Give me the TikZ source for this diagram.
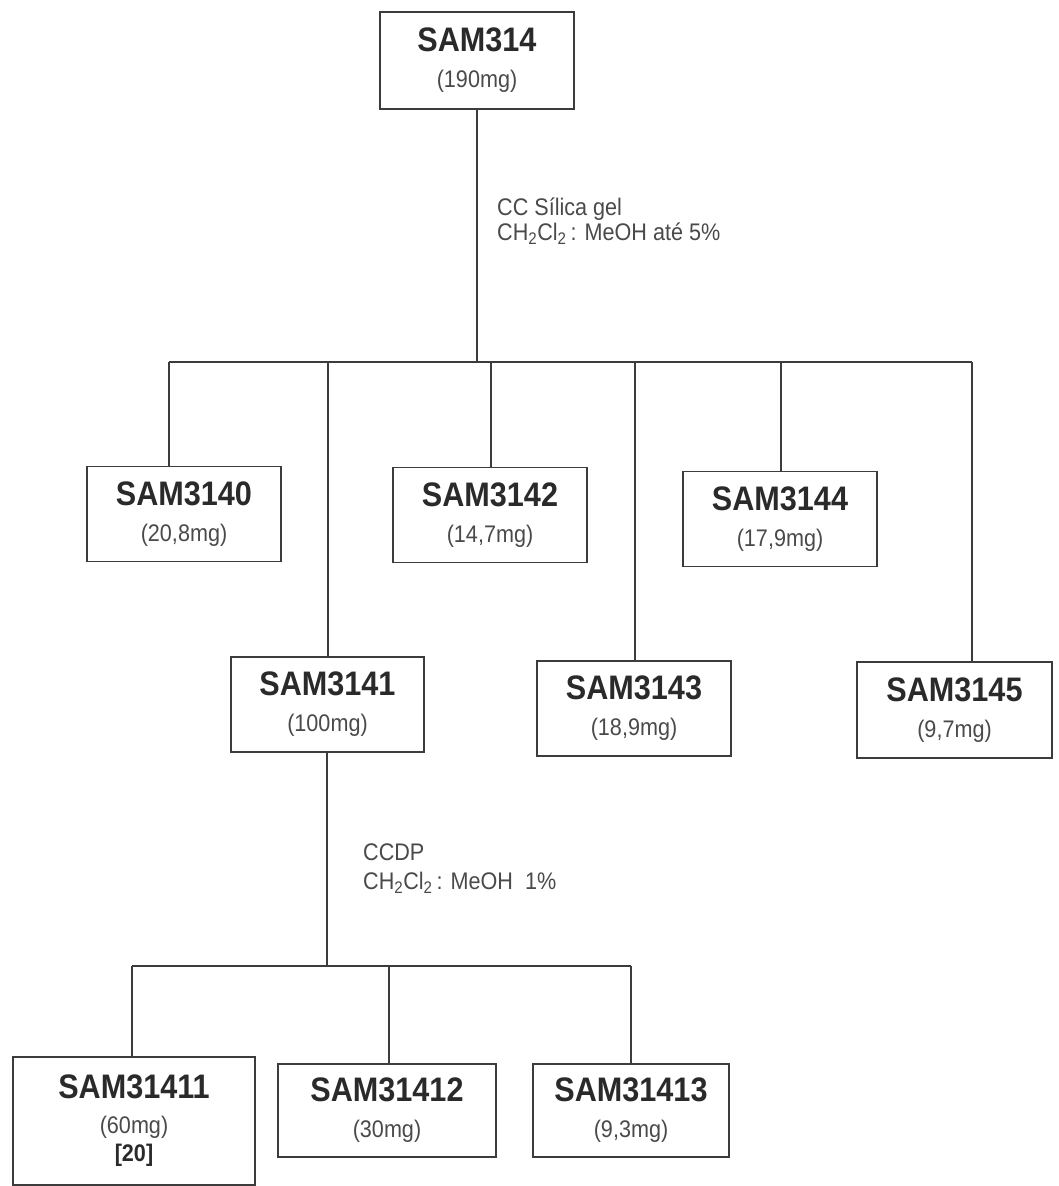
\documentclass[tikz,border=0pt]{standalone}
\usepackage{fontspec}
\setmainfont{Liberation Sans}[FakeStretch=0.9]
\usepackage{xcolor}
\definecolor{linec}{HTML}{3C3C3C}
\definecolor{titlecol}{HTML}{2A2A2A}
\definecolor{masscol}{HTML}{4A4A4A}
\newcommand\ttl[1]{{\fontsize{34}{36}\selectfont\bfseries\color{titlecol}#1}}
\tikzset{
  smpbox/.style={draw=linec, line width=1.3pt, inner sep=0pt, align=center,
    minimum width=194pt, minimum height=95pt,
    font=\fontsize{24}{36}\selectfont, text=masscol},
  conn/.style={draw=linec, line width=1.3pt},
  lab/.style={inner sep=0pt, font=\fontsize{24}{25}\selectfont, text=masscol}
}
\begin{document}
\begin{tikzpicture}[x=1pt,y=-1pt]
\useasboundingbox[fill=white] (0,0) rectangle (1059,1186);

% boxes
\node[smpbox, minimum height=97pt] (s314) at (477,60.5) {\ttl{SAM314}\\(190mg)};
\node[smpbox] (s3140) at (184,514) {\ttl{SAM3140}\\(20,8mg)};
\node[smpbox, minimum width=193pt] (s3141) at (327.5,704.5) {\ttl{SAM3141}\\(100mg)};
\node[smpbox] (s3142) at (490,515) {\ttl{SAM3142}\\(14,7mg)};
\node[smpbox] (s3143) at (634,708.5) {\ttl{SAM3143}\\(18,9mg)};
\node[smpbox] (s3144) at (780,519) {\ttl{SAM3144}\\(17,9mg)};
\node[smpbox, minimum width=195pt, minimum height=96pt] (s3145) at (954.5,710) {\ttl{SAM3145}\\(9,7mg)};
\node[smpbox, minimum width=242pt, minimum height=128pt] (s31411) at (134,1121)
  {\ttl{SAM31411}\\[-1pt](60mg)\\[-8pt]{\fontsize{24}{24}\selectfont\bfseries\color{titlecol}[20]}};
\node[smpbox, minimum width=218pt, minimum height=93pt] (s31412) at (387,1110.5) {\ttl{SAM31412}\\(30mg)};
\node[smpbox, minimum width=196pt, minimum height=93pt] (s31413) at (631,1110.5) {\ttl{SAM31413}\\(9,3mg)};

% labels
\node[lab, anchor=base west] (l1a) at (497,215.5) {CC Sílica gel};
\node[lab, anchor=base west] (l1b) at (497,240.5) {CH\textsubscript{2}Cl\textsubscript{2}\,: MeOH até 5\%};
\node[lab, anchor=base west] (l2a) at (363,860.5) {CCDP};
\node[lab, anchor=base west] (l2b) at (363,889.5) {CH\textsubscript{2}Cl\textsubscript{2}\,: MeOH\ \ 1\%};

% first split
\coordinate (t1) at (477,362);
\coordinate (j0) at (169,362);
\coordinate (j1) at (328,362);
\coordinate (j2) at (491,362);
\coordinate (j3) at (635,362);
\coordinate (j4) at (781,362);
\coordinate (j5) at (972,362);
\draw[conn] (s314.south) -- (t1);
\draw[conn] (j0) -- (j5);
\draw[conn] (j0) -- (j0 |- s3140.north);
\draw[conn] (j1) -- (j1 |- s3141.north);
\draw[conn] (j2) -- (j2 |- s3142.north);
\draw[conn] (j3) -- (j3 |- s3143.north);
\draw[conn] (j4) -- (j4 |- s3144.north);
\draw[conn] (j5) -- (j5 |- s3145.north);

% second split
\coordinate (t2) at (327,966);
\coordinate (k0) at (132,966);
\coordinate (k1) at (389,966);
\coordinate (k2) at (631,966);
\draw[conn] (t2 |- s3141.south) -- (t2);
\draw[conn] (k0) -- (k2);
\draw[conn] (k0) -- (k0 |- s31411.north);
\draw[conn] (k1) -- (k1 |- s31412.north);
\draw[conn] (k2) -- (k2 |- s31413.north);
\end{tikzpicture}
\end{document}
